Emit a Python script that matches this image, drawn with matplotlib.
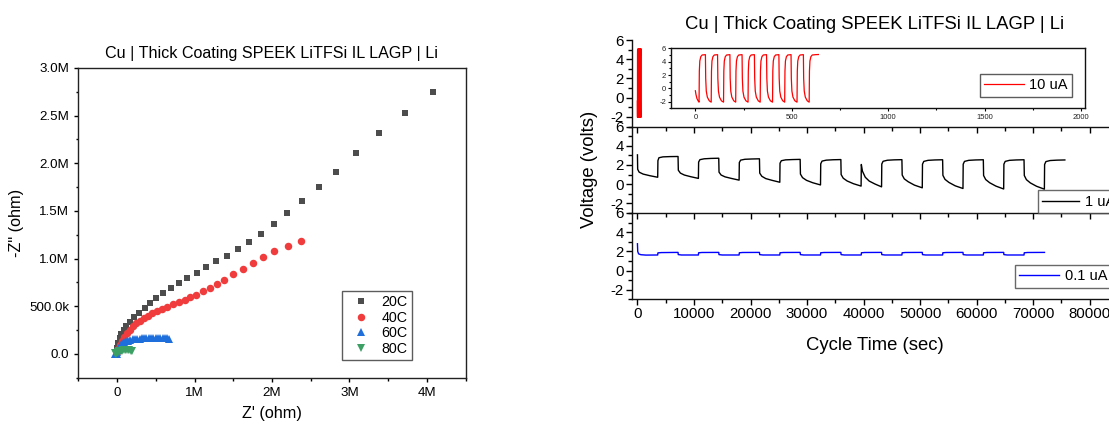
import matplotlib
matplotlib.use('Agg')
import matplotlib.pyplot as plt
from matplotlib.ticker import MultipleLocator

plt.rcParams['font.family'] = ['Liberation Sans', 'DejaVu Sans']
plt.rcParams['axes.unicode_minus'] = False

# ---------------- Nyquist data (ohm, in units of 1e6) ----------------
x20 = [0.0, 0.004, 0.017, 0.034, 0.056, 0.086, 0.120, 0.163, 0.215, 0.280, 0.357, 0.430,
       0.508, 0.598, 0.692, 0.796, 0.908, 1.028, 1.148, 1.282, 1.419, 1.557, 1.703, 1.858,
       2.022, 2.198, 2.391, 2.602, 2.830, 3.084, 3.385, 3.712, 4.073]
y20 = [0.024, 0.059, 0.112, 0.164, 0.210, 0.252, 0.294, 0.339, 0.385, 0.434, 0.483, 0.531,
       0.584, 0.636, 0.689, 0.741, 0.797, 0.853, 0.913, 0.972, 1.031, 1.098, 1.175, 1.262,
       1.364, 1.479, 1.601, 1.748, 1.913, 2.108, 2.315, 2.524, 2.752]

x40 = [0.0, 0.013, 0.034, 0.065, 0.095, 0.129, 0.163, 0.206, 0.249, 0.292, 0.344, 0.396,
       0.452, 0.516, 0.581, 0.645, 0.723, 0.800, 0.873, 0.946, 1.024, 1.105, 1.196, 1.290,
       1.385, 1.497, 1.630, 1.751, 1.884, 2.030, 2.202, 2.378]
y40 = [0.021, 0.052, 0.094, 0.136, 0.178, 0.217, 0.255, 0.290, 0.322, 0.350, 0.378, 0.402,
       0.427, 0.448, 0.472, 0.497, 0.521, 0.545, 0.566, 0.594, 0.622, 0.661, 0.696, 0.731,
       0.773, 0.839, 0.895, 0.955, 1.017, 1.080, 1.133, 1.185]

x60 = [-0.02, 0.0, 0.005, 0.012, 0.022, 0.035, 0.05, 0.068, 0.09, 0.115, 0.14, 0.17, 0.2,
       0.23, 0.26, 0.29, 0.32, 0.35, 0.38, 0.41, 0.44, 0.47, 0.5, 0.53, 0.56, 0.59, 0.62,
       0.65, 0.67]
y60 = [-0.005, 0.0, 0.02, 0.04, 0.06, 0.08, 0.097, 0.11, 0.122, 0.132, 0.14, 0.146, 0.151,
       0.155, 0.158, 0.16, 0.162, 0.163, 0.164, 0.165, 0.165, 0.166, 0.166, 0.166, 0.166,
       0.166, 0.165, 0.164, 0.16]

x80 = [-0.03, -0.01, 0.0, 0.01, 0.02, 0.03, 0.045, 0.06, 0.08, 0.1, 0.12, 0.14, 0.16, 0.18, 0.195]
y80 = [0.005, 0.0, 0.01, 0.018, 0.024, 0.028, 0.032, 0.035, 0.037, 0.038, 0.038, 0.037,
       0.036, 0.035, 0.035]

nyq_labels = ['20C', '40C', '60C', '80C']
nyq_xticks = [0, 1, 2, 3, 4]
nyq_xticklabels = ['0', '1M', '2M', '3M', '4M']
nyq_yticks = [0, 0.5, 1.0, 1.5, 2.0, 2.5, 3.0]
nyq_yticklabels = ['0.0', '500.0k', '1.0M', '1.5M', '2.0M', '2.5M', '3.0M']

# ---------------- Cycling data ----------------
t10 = [0, 3, 8, 14, 19,
       20.5, 23, 28, 35, 52, 53.5, 56.5, 62, 72, 82,
       83.5, 86, 91, 98, 115, 116.5, 119.5, 125, 135, 146,
       147.5, 150, 155, 162, 179, 180.5, 183.5, 189, 199, 209,
       210.5, 213, 218, 225, 242, 243.5, 246.5, 252, 262, 273,
       274.5, 277, 282, 289, 306, 307.5, 310.5, 316, 326, 336,
       337.5, 340, 345, 352, 369, 370.5, 373.5, 379, 389, 400,
       401.5, 404, 409, 416, 433, 434.5, 437.5, 443, 453, 463,
       464.5, 467, 472, 479, 496, 497.5, 500.5, 506, 516, 527,
       528.5, 531, 536, 543, 560, 561.5, 564.5, 570, 580, 590,
       591.5, 594, 599, 606, 623, 638]
v10 = [-0.35, -0.9, -1.5, -1.85, -2.05,
       2.6, 4.1, 4.75, 5.0, 5.05, 1.5, -0.4, -1.3, -1.85, -2.05,
       2.6, 4.1, 4.75, 5.0, 5.05, 1.5, -0.4, -1.3, -1.85, -2.05,
       2.6, 4.1, 4.75, 5.0, 5.05, 1.5, -0.4, -1.3, -1.85, -2.05,
       2.6, 4.1, 4.75, 5.0, 5.05, 1.5, -0.4, -1.3, -1.85, -2.05,
       2.6, 4.1, 4.75, 5.0, 5.05, 1.5, -0.4, -1.3, -1.85, -2.05,
       2.6, 4.1, 4.75, 5.0, 5.05, 1.5, -0.4, -1.3, -1.85, -2.05,
       2.6, 4.1, 4.75, 5.0, 5.05, 1.5, -0.4, -1.3, -1.85, -2.05,
       2.6, 4.1, 4.75, 5.0, 5.05, 1.5, -0.4, -1.3, -1.85, -2.05,
       2.6, 4.1, 4.75, 5.0, 5.05, 1.5, -0.4, -1.3, -1.85, -2.05,
       2.6, 4.1, 4.75, 5.0, 5.05, 5.07]

t1 = [0, 40, 300, 1000, 2200, 3580,
      3620, 3800, 4500, 5800, 7180,
      7230, 7600, 8300, 9400, 10780,
      10820, 11050, 11800, 13000, 14380,
      14430, 14800, 15500, 16600, 17980,
      18020, 18250, 19000, 20200, 21580,
      21630, 22000, 22700, 23800, 25180,
      25220, 25450, 26200, 27400, 28780,
      28830, 29200, 29900, 31000, 32380,
      32420, 32650, 33400, 34600, 35980,
      36030, 36400, 37100, 38200, 39560,
      39600, 39800, 40300, 41000, 42000, 43180,
      43220, 43450, 44200, 45400, 46780,
      46830, 47200, 47900, 49000, 50380,
      50420, 50650, 51400, 52600, 53980,
      54030, 54400, 55100, 56200, 57580,
      57620, 57850, 58600, 59800, 61180,
      61230, 61600, 62300, 63400, 64780,
      64820, 65050, 65800, 67000, 68380,
      68430, 68800, 69500, 70600, 71980,
      72020, 72250, 73000, 74200, 75600]
v1 = [3.05, 1.55, 1.25, 1.05, 0.88, 0.72,
      2.45, 2.75, 2.84, 2.87, 2.88,
      1.45, 1.15, 0.95, 0.78, 0.60,
      2.30, 2.55, 2.64, 2.68, 2.70,
      1.25, 0.95, 0.76, 0.60, 0.42,
      2.25, 2.50, 2.59, 2.62, 2.64,
      1.15, 0.82, 0.58, 0.40, 0.20,
      2.18, 2.44, 2.53, 2.56, 2.58,
      1.05, 0.68, 0.40, 0.15, -0.08,
      2.12, 2.40, 2.50, 2.54, 2.56,
      1.00, 0.62, 0.33, 0.05, -0.20,
      2.05, 1.35, 0.72, 0.32, 0.02, -0.28,
      2.10, 2.38, 2.49, 2.53, 2.55,
      0.95, 0.55, 0.25, -0.10, -0.38,
      2.08, 2.37, 2.48, 2.52, 2.54,
      0.92, 0.50, 0.18, -0.17, -0.45,
      2.08, 2.37, 2.48, 2.52, 2.54,
      0.90, 0.48, 0.15, -0.20, -0.50,
      2.08, 2.37, 2.48, 2.52, 2.54,
      0.90, 0.47, 0.13, -0.22, -0.52,
      2.05, 2.35, 2.46, 2.50, 2.52]

t01 = [0, 50, 200, 600, 1500, 3580,
       3620, 4200, 7180, 7220, 7800, 10780,
       10820, 11400, 14380, 14420, 15000, 17980,
       18020, 18600, 21580, 21620, 22200, 25180,
       25220, 25800, 28780, 28820, 29400, 32380,
       32420, 33000, 35980, 36020, 36600, 39580,
       39620, 40200, 43180, 43220, 43800, 46780,
       46820, 47400, 50380, 50420, 51000, 53980,
       54020, 54600, 57580, 57620, 58200, 61180,
       61220, 61800, 64780, 64820, 65400, 68380,
       68420, 69000, 72000]
v01 = [2.8, 2.0, 1.75, 1.66, 1.62, 1.63,
       1.85, 1.88, 1.90, 1.67, 1.63, 1.63,
       1.86, 1.89, 1.90, 1.67, 1.63, 1.63,
       1.86, 1.89, 1.90, 1.67, 1.63, 1.63,
       1.86, 1.89, 1.90, 1.67, 1.63, 1.63,
       1.86, 1.89, 1.90, 1.67, 1.63, 1.63,
       1.86, 1.89, 1.90, 1.67, 1.63, 1.63,
       1.86, 1.89, 1.90, 1.67, 1.63, 1.63,
       1.86, 1.89, 1.90, 1.67, 1.63, 1.63,
       1.86, 1.89, 1.90, 1.67, 1.63, 1.63,
       1.86, 1.89, 1.90]

title_text = 'Cu | Thick Coating SPEEK LiTFSi IL LAGP | Li'
volt_ticks = [-2, 0, 2, 4, 6]

# ---------------- Figure ----------------
fig = plt.figure(figsize=(11.09, 4.29), dpi=100)

# ----- Left: Nyquist -----
ax = fig.add_axes([0.0706, 0.1196, 0.3493, 0.7219])
M = 1e6
styles = [('s', '#4d4d4d', 4.8), ('o', '#f03c3c', 5.4), ('^', '#1e6fdc', 6.0), ('v', '#3ca064', 6.0)]
for (xs, ys), lab, (mk, col, ms) in zip([(x20, y20), (x40, y40), (x60, y60), (x80, y80)],
                                          nyq_labels, styles):
    ax.plot([v * M for v in xs], [v * M for v in ys], linestyle='none', marker=mk,
            color=col, markersize=ms, markeredgewidth=0, label=lab)
ax.set_xlim(-0.5 * M, 4.5 * M)
ax.set_ylim(-0.25 * M, 3.0 * M)
ax.set_xticks([v * M for v in nyq_xticks])
ax.set_xticklabels(nyq_xticklabels)
ax.set_yticks([v * M for v in nyq_yticks])
ax.set_yticklabels(nyq_yticklabels)
ax.xaxis.set_minor_locator(MultipleLocator(0.5 * M))
ax.yaxis.set_minor_locator(MultipleLocator(0.25 * M))
ax.tick_params(which='both', direction='out', top=False, right=False, width=1.0, labelsize=9.6,
               pad=3.5)
ax.tick_params(which='major', length=3.0)
ax.tick_params(which='minor', length=1.8)
for sp in ax.spines.values():
    sp.set_linewidth(1.0)
    sp.set_color('#222222')
ax.set_xlabel("Z' (ohm)", fontsize=11.7, labelpad=5)
ax.set_ylabel('-Z" (ohm)', fontsize=11.7, labelpad=4)
ax.set_title(title_text, fontsize=11.6, pad=7)
leg = ax.legend(loc='upper left', bbox_to_anchor=(0.3084, 0.3224), bbox_transform=fig.transFigure,
                borderaxespad=0, fancybox=False, fontsize=10.3, handlelength=2.0,
                handletextpad=0.46, borderpad=0.3, labelspacing=0.12)
leg.get_frame().set_edgecolor('#333333')
leg.get_frame().set_linewidth(1.0)

# ----- Right: cycling panels -----
left, width, h = 0.5697, 0.4384, 0.2016
bottoms = [0.7051, 0.5035, 0.3019]
axs = [fig.add_axes([left, b, width, h]) for b in bottoms]
series = [(t10, v10, '#ff0000', '10 uA'), (t1, v1, '#000000', '1 uA'), (t01, v01, '#0000ff', '0.1 uA')]
for a, (ts, vs, col, lab) in zip(axs, series):
    a.plot(ts, vs, color=col, lw=1.0, label=lab)
    a.set_xlim(-1000, 85000)
    a.set_ylim(-3, 6)
    a.set_yticks(volt_ticks)
    a.yaxis.set_minor_locator(MultipleLocator(1))
    a.xaxis.set_major_locator(MultipleLocator(10000))
    a.xaxis.set_minor_locator(MultipleLocator(5000))
    a.spines['top'].set_visible(False)
    a.spines['right'].set_visible(False)
    for sp in ('left', 'bottom'):
        a.spines[sp].set_linewidth(1.0)
        a.spines[sp].set_color('#111111')
    a.tick_params(which='both', direction='out', top=False, right=False, width=1.0, labelsize=10.8,
                  pad=1.5)
    a.tick_params(which='major', length=4.2)
    a.tick_params(which='minor', length=2.6)
    a.patch.set_alpha(0)
for a in axs[:2]:
    a.tick_params(labelbottom=False)
axs[0].set_title(title_text, fontsize=13.3, pad=8)
axs[2].set_xlabel('Cycle Time (sec)', fontsize=13.3, labelpad=11)
axs[1].set_ylabel('Voltage (volts)', fontsize=13.3, labelpad=9)

# legends for 1 uA and 0.1 uA
for a, anchor, hl in [(axs[1], (0.936, 0.556), 2.5), (axs[2], (0.9152, 0.3823), 2.75)]:
    lg = a.legend(loc='upper left', bbox_to_anchor=anchor, bbox_transform=fig.transFigure,
                  borderaxespad=0, fancybox=False, fontsize=10.5, handlelength=hl,
                  handletextpad=0.4, borderpad=0.3)
    lg.get_frame().set_edgecolor('#444444')
    lg.get_frame().set_linewidth(1.0)

# ----- Inset for 10 uA -----
ins = fig.add_axes([0.6053, 0.7471, 0.373, 0.1403])
ins.plot(t10, v10, color='#ff0000', lw=0.9, label='10 uA')
ins.set_xlim(-125, 2020)
ins.set_ylim(-3, 6)
ins.set_xticks([0, 500, 1000, 1500, 2000])
ins.xaxis.set_minor_locator(MultipleLocator(250))
ins.set_yticks(volt_ticks)
ins.yaxis.set_minor_locator(MultipleLocator(1))
ins.tick_params(which='both', direction='out', top=False, right=False, width=0.8, labelsize=5.5,
                pad=1.5, labelcolor='#222222')
ins.tick_params(which='major', length=2.2)
ins.tick_params(which='minor', length=1.3)
for sp in ins.spines.values():
    sp.set_linewidth(1.0)
    sp.set_color('#111111')
lg = ins.legend(loc='upper left', bbox_to_anchor=(0.8837, 0.8275), bbox_transform=fig.transFigure,
                borderaxespad=0, fancybox=False, fontsize=10.5, handlelength=2.74,
                handletextpad=0.34, borderpad=0.3)
lg.get_frame().set_edgecolor('#333333')
lg.get_frame().set_linewidth(1.0)

fig.savefig('out.png', dpi=100)
